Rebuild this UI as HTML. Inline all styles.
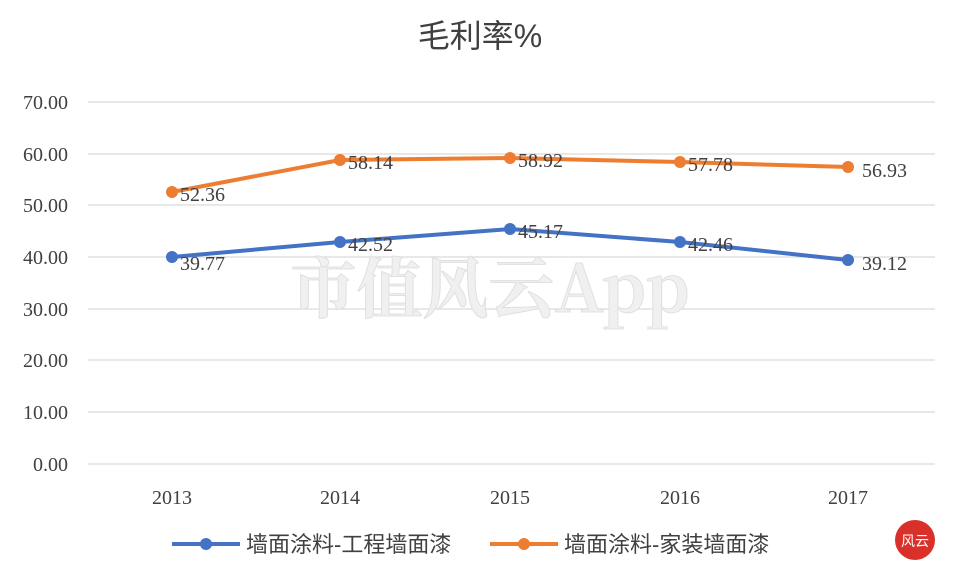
<!DOCTYPE html>
<html><head><meta charset="utf-8"><style>
html,body{margin:0;padding:0;background:#fff;}
svg{display:block;}
</style></head><body>
<svg width="958" height="574" viewBox="0 0 958 574" xmlns="http://www.w3.org/2000/svg">
<rect width="958" height="574" fill="#fff"/>
<text x="480" y="47" text-anchor="middle" font-family="Liberation Sans, Noto Sans CJK SC, sans-serif" font-size="32" fill="#404040">毛利率%</text>
<g stroke="#d9d9d9" stroke-width="1.3">
<line x1="88" x2="935" y1="102" y2="102"/><line x1="88" x2="935" y1="154" y2="154"/>
<line x1="88" x2="935" y1="205" y2="205"/><line x1="88" x2="935" y1="257" y2="257"/>
<line x1="88" x2="935" y1="309" y2="309"/><line x1="88" x2="935" y1="360" y2="360"/>
<line x1="88" x2="935" y1="412" y2="412"/><line x1="88" x2="935" y1="464" y2="464"/>
</g>
<g font-family="Liberation Serif, serif" font-size="20" fill="#404040" text-anchor="end">
<text x="68" y="109">70.00</text><text x="68" y="161">60.00</text><text x="68" y="212">50.00</text>
<text x="68" y="264">40.00</text><text x="68" y="316">30.00</text><text x="68" y="367">20.00</text>
<text x="68" y="419">10.00</text><text x="68" y="471">0.00</text>
</g>
<g font-family="Liberation Serif, serif" font-size="20" fill="#404040" text-anchor="middle">
<text x="172" y="504">2013</text><text x="340" y="504">2014</text><text x="510" y="504">2015</text>
<text x="680" y="504">2016</text><text x="848" y="504">2017</text>
</g>
<text x="490" y="312" text-anchor="middle" font-family="Noto Serif CJK SC, serif" font-size="66" font-weight="bold" fill="#f0f0f0" stroke="#e0e0e0" stroke-width="1">市值风云App</text>
<polyline points="172,192 340,160 510,158 680,162 848,167" fill="none" stroke="#ed7d31" stroke-width="4"/>
<polyline points="172,257 340,242 510,229 680,242 848,260" fill="none" stroke="#4472c4" stroke-width="4"/>
<g fill="#ed7d31"><circle cx="172" cy="192" r="6"/><circle cx="340" cy="160" r="6"/><circle cx="510" cy="158" r="6"/><circle cx="680" cy="162" r="6"/><circle cx="848" cy="167" r="6"/></g>
<g fill="#4472c4"><circle cx="172" cy="257" r="6"/><circle cx="340" cy="242" r="6"/><circle cx="510" cy="229" r="6"/><circle cx="680" cy="242" r="6"/><circle cx="848" cy="260" r="6"/></g>
<g font-family="Liberation Serif, serif" font-size="20" fill="#404040">
<text x="180" y="201">52.36</text><text x="348" y="169">58.14</text><text x="518" y="167">58.92</text>
<text x="688" y="171">57.78</text><text x="862" y="177">56.93</text>
<text x="180" y="270">39.77</text><text x="348" y="251">42.52</text><text x="518" y="238">45.17</text>
<text x="688" y="251">42.46</text><text x="862" y="270">39.12</text>
</g>
<line x1="172" x2="240" y1="544" y2="544" stroke="#4472c4" stroke-width="4"/><circle cx="206" cy="544" r="6" fill="#4472c4"/>
<text x="246" y="552" font-family="Liberation Sans, Noto Sans CJK SC, sans-serif" font-size="22" fill="#404040">墙面涂料-工程墙面漆</text>
<line x1="490" x2="558" y1="544" y2="544" stroke="#ed7d31" stroke-width="4"/><circle cx="524" cy="544" r="6" fill="#ed7d31"/>
<text x="564" y="552" font-family="Liberation Sans, Noto Sans CJK SC, sans-serif" font-size="22" fill="#404040">墙面涂料-家装墙面漆</text>
<circle cx="915" cy="540" r="20" fill="#d9302a"/>
<text x="915" y="546" text-anchor="middle" font-family="Noto Sans CJK SC, sans-serif" font-size="14" fill="#fff">风云</text>
</svg>
</body></html>
